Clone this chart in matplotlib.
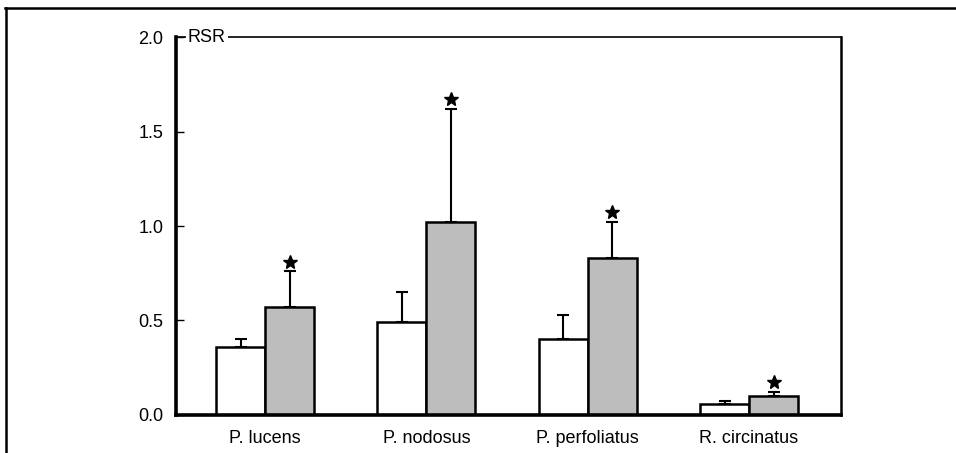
import matplotlib.pyplot as plt
import numpy as np
from matplotlib.lines import Line2D

plt.rcParams.update({'font.family': ['Liberation Sans', 'DejaVu Sans'], 'font.size': 13})

species = ['P. lucens', 'P. nodosus', 'P. perfoliatus', 'R. circinatus']
control = [0.36, 0.49, 0.40, 0.06]
control_err = [0.04, 0.16, 0.13, 0.015]
treated = [0.57, 1.02, 0.83, 0.10]
treated_err = [0.19, 0.60, 0.19, 0.02]
yticks = [0.0, 0.5, 1.0, 1.5, 2.0]

fig = plt.figure(figsize=(9.56, 4.53), dpi=100)
ax = fig.add_axes([0.1841, 0.0839, 0.6956, 0.8344])

x = np.arange(len(species))
w = 0.304

ax.bar(x - w / 2, control, width=w, color='white', edgecolor='black', linewidth=1.8, zorder=2)
ax.bar(x + w / 2, treated, width=w, color='#bdbdbd', edgecolor='black', linewidth=1.8, zorder=2)

ax.errorbar(x - w / 2, control, yerr=[np.zeros(len(x)), control_err], fmt='none',
            ecolor='black', elinewidth=1.5, capsize=4, capthick=1.5, zorder=1)
ax.errorbar(x + w / 2, treated, yerr=[np.zeros(len(x)), treated_err], fmt='none',
            ecolor='black', elinewidth=1.5, capsize=4, capthick=1.5, zorder=1)

# significance stars just above the caps
tops = np.array(treated) + np.array(treated_err)
ax.plot(x + w / 2, tops + 0.052, linestyle='none', marker='*', color='black',
        markersize=10, zorder=3)

ax.set_xlim(-0.552, 3.570)
ax.set_ylim(0, 2.0)
ax.set_yticks(yticks)
ax.set_yticklabels(['{:.1f}'.format(t) for t in yticks])
ax.set_xticks(x)
ax.set_xticklabels(species)
ax.tick_params(axis='y', direction='in', length=6, width=1, pad=9)
ax.tick_params(axis='x', length=0, pad=11)

for side in ['left', 'bottom', 'right', 'top']:
    ax.spines[side].set_linewidth(1.8)
ax.spines['left'].set_linewidth(2.6)
ax.spines['bottom'].set_linewidth(2.6)
ax.spines['top'].set_linewidth(1.2)

ax.text(0.018, 1.0, 'RSR', transform=ax.transAxes, ha='left', va='center', fontsize=13,
        bbox=dict(facecolor='white', edgecolor='none', pad=1.5), clip_on=False, zorder=5)

# outer frame (top and left edges)
fig.add_artist(Line2D([5 / 956, 1], [1 - 8 / 453, 1 - 8 / 453], color='black', linewidth=1.8))
fig.add_artist(Line2D([6 / 956, 6 / 956], [0, 1 - 8 / 453], color='black', linewidth=1.8))

fig.savefig('out.png', dpi=100)
